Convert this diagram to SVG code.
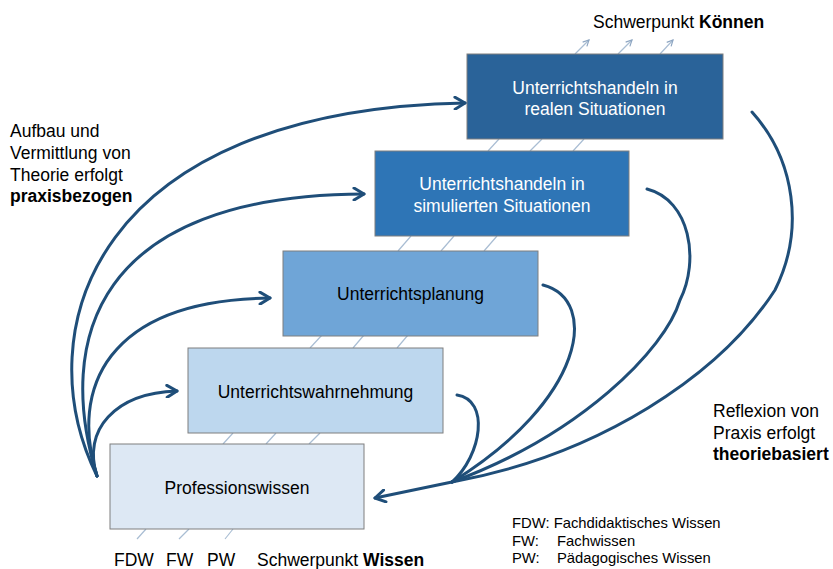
<svg xmlns="http://www.w3.org/2000/svg" width="833" height="569" viewBox="0 0 833 569">
<style>
text{font-family:"Liberation Sans",Arial,sans-serif;font-size:17.5px;fill:#000}
.box{stroke:#7f7f7f;stroke-width:1}
.w{fill:#fff}
.c{fill:none;stroke:#1f4e79;stroke-width:3;stroke-linecap:round}
.h{stroke:#a9bdd3;stroke-width:1.2}
.leg{font-size:14.8px}
.b{font-weight:bold}
</style>
<defs>
<marker id="ah" viewBox="0 0 14 14" refX="12" refY="7" markerWidth="14" markerHeight="14" markerUnits="userSpaceOnUse" orient="auto">
<path d="M2,1 L12,7 L2,13" fill="none" stroke="#1f4e79" stroke-width="3" stroke-linecap="round" stroke-linejoin="round"/>
</marker>
<marker id="sa" viewBox="0 0 8 8" refX="7" refY="4" markerWidth="8" markerHeight="8" markerUnits="userSpaceOnUse" orient="auto">
<path d="M1,1 L7,4 L1,7" fill="none" stroke="#8ea6c2" stroke-width="1.2"/>
</marker>
</defs>

<g id="hatches">
<line class="h" x1="137" y1="539" x2="146" y2="529"/>
<line class="h" x1="179" y1="539" x2="189" y2="529"/>
<line class="h" x1="225" y1="539" x2="233" y2="529"/>
<line class="h" x1="223" y1="444" x2="233" y2="433"/>
<line class="h" x1="266" y1="444" x2="276" y2="433"/>
<line class="h" x1="309" y1="444" x2="320" y2="433"/>
<line class="h" x1="310" y1="348" x2="322" y2="335"/>
<line class="h" x1="353" y1="348" x2="364" y2="335"/>
<line class="h" x1="397" y1="348" x2="408" y2="335"/>
<line class="h" x1="398" y1="251" x2="411" y2="236"/>
<line class="h" x1="441" y1="251" x2="454" y2="236"/>
<line class="h" x1="484" y1="251" x2="497" y2="236"/>
<line class="h" x1="488" y1="151" x2="499" y2="139"/>
<line class="h" x1="530" y1="151" x2="542" y2="139"/>
<line class="h" x1="573" y1="151" x2="584" y2="139"/>
<line class="h" x1="575" y1="54" x2="589" y2="40" marker-end="url(#sa)"/>
<line class="h" x1="618" y1="54" x2="632" y2="40" marker-end="url(#sa)"/>
<line class="h" x1="660" y1="54" x2="673" y2="40" marker-end="url(#sa)"/>
</g>

<g id="n-prof">
<rect class="box" x="110" y="444" width="254" height="85" fill="#dde8f4"/>
<text x="237" y="494" text-anchor="middle">Professionswissen</text>
</g>
<g id="n-wahr">
<rect class="box" x="188" y="348" width="255" height="85" fill="#bdd7ee"/>
<text x="315.5" y="397.5" text-anchor="middle">Unterrichtswahrnehmung</text>
</g>
<g id="n-plan">
<rect class="box" x="283" y="251" width="255" height="85" fill="#6fa5d7"/>
<text x="410.5" y="300" text-anchor="middle">Unterrichtsplanung</text>
</g>
<g id="n-sim">
<rect class="box" x="375" y="151" width="254" height="85" fill="#2e75b6"/>
<text class="w" x="502" y="190" text-anchor="middle">Unterrichtshandeln in</text>
<text class="w" x="502" y="211.5" text-anchor="middle">simulierten Situationen</text>
</g>
<g id="n-real">
<rect class="box" x="467" y="54" width="256" height="85" fill="#2a6399"/>
<text class="w" x="595" y="93.5" text-anchor="middle">Unterrichtshandeln in</text>
<text class="w" x="595" y="115" text-anchor="middle">realen Situationen</text>
</g>

<g id="connectors">
<path class="c" d="M97,476 C25,330 95,110 465,103" marker-end="url(#ah)"/>
<path class="c" d="M97,476 C55,340 95,195 364,194" marker-end="url(#ah)"/>
<path class="c" d="M97,476 C70,390 105,300 270,298" marker-end="url(#ah)"/>
<path class="c" d="M97,476 C82,430 115,393 177,391" marker-end="url(#ah)"/>
<path class="c" d="M457,395 C490,400 482,455 452,482"/>
<path class="c" d="M543,285 C600,300 585,400 452,482"/>
<path class="c" d="M647,189 C690,200 700,260 680,300 C665,350 580,435 452,482"/>
<path class="c" d="M752,112 C795,160 805,230 775,290 C720,375 600,455 452,482"/>
<path class="c" d="M452,482 L375,498" marker-end="url(#ah)"/>
</g>

<g id="labels">
<text x="593" y="28">Schwerpunkt <tspan class="b">Können</tspan></text>
<text x="10" y="137">Aufbau und</text>
<text x="10" y="159">Vermittlung von</text>
<text x="10" y="181">Theorie erfolgt</text>
<text x="10" y="202" class="b">praxisbezogen</text>
<text x="713" y="417">Reflexion von</text>
<text x="713" y="439">Praxis erfolgt</text>
<text x="713" y="460" class="b">theoriebasiert</text>
<text x="114" y="566">FDW</text>
<text x="166" y="566">FW</text>
<text x="207" y="566">PW</text>
<text x="257" y="566">Schwerpunkt <tspan class="b">Wissen</tspan></text>
<text class="leg" x="512" y="528">FDW: Fachdidaktisches Wissen</text>
<text class="leg" x="512" y="546">FW:</text>
<text class="leg" x="557" y="546">Fachwissen</text>
<text class="leg" x="512" y="563">PW:</text>
<text class="leg" x="557" y="563">Pädagogisches Wissen</text>
</g>
</svg>
